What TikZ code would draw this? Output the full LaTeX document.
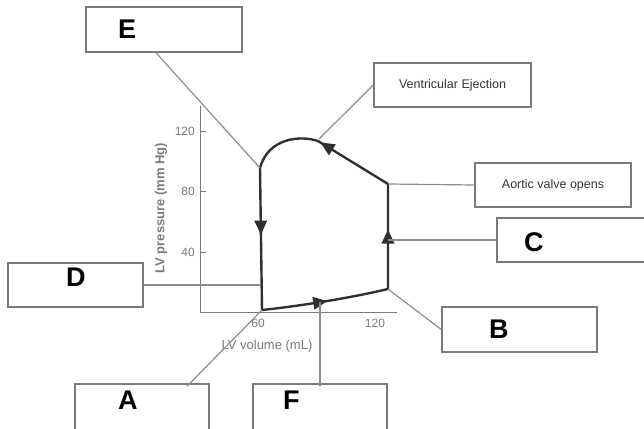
\documentclass[tikz,border=0pt]{standalone}
\usepackage{fontspec}
\setmainfont{Liberation Sans}
\usetikzlibrary{decorations.markings}
\definecolor{axisgray}{HTML}{7A7A7A}
\definecolor{leadgray}{HTML}{8C8C8C}
\definecolor{loopgray}{HTML}{303030}
\tikzset{
  box/.style={draw=axisgray, line width=1.4pt, minimum height=44pt, inner sep=0pt},
  leader/.style={draw=leadgray, line width=1.2pt},
  pvloop/.style={draw=loopgray, line width=2.4pt, line join=round},
  letter/.style={font=\fontsize{27}{27}\selectfont\bfseries, inner sep=0pt, anchor=west},
  note/.style={font=\fontsize{12.5}{13}\selectfont, text=black!80},
  ticklab/.style={font=\fontsize{12}{12}\selectfont, text=axisgray, inner sep=0pt},
  arrowmark/.style={postaction={decorate, decoration={markings,
    mark=at position #1 with {\fill[loopgray] (7pt,0pt) -- (-7pt,6.5pt) -- (-7pt,-6.5pt) -- cycle;}}}},
}
\begin{document}
\begin{tikzpicture}[x=1pt, y=-1pt]
    \useasboundingbox (0,0) rectangle (644,428);

    % axes
    \draw[axisgray, line width=1pt] (200,106) -- (200,312) -- (397,312);
    \foreach \p/\yy in {120/131, 80/191, 40/252} {
        \draw[axisgray, line width=0.8pt] (200,\yy) -- ++(6,0);
        \node[ticklab, anchor=east] (tick\p) at (195,\yy) {\p};
    }
    \node[ticklab] (tickx60) at (258,323) {60};
    \node[ticklab] (tickx120) at (375,323) {120};
    \node[font=\fontsize{13}{13}\selectfont, text=axisgray] (xlab) at (267,346) {LV volume (mL)};
    \node[font=\fontsize{13}{13}\selectfont\bfseries, text=axisgray, rotate=90] (ylab) at (161,208) {LV pressure (mm Hg)};

    % loop points
    \coordinate (pA) at (262,310);
    \coordinate (pB) at (388,289);
    \coordinate (pAV) at (388,184);
    \coordinate (pVE) at (318,141);
    \coordinate (pE) at (260,168);
    \coordinate (pC) at (388,240);
    \coordinate (pD) at (261,285);
    \coordinate (pF) at (320,302);

    \draw[pvloop] (pA) .. controls (300,306) and (350,298) .. (pB) -- (pAV) -- (pVE)
        .. controls (300,135) and (268,138) .. (pE) -- cycle;
    \path[arrowmark=0.46] (pA) .. controls (300,306) and (350,298) .. (pB);
    \path[arrowmark=0.5] (pB) -- (pAV);
    \path[arrowmark=0.88] (pAV) -- (pVE);
    \path[arrowmark=0.42] (pE) -- (pA);

    % boxes
    \foreach \n/\x/\y/\w/\h in {E/164/29.5/156/45, B/519.5/329.5/155/45, D/75.5/285/135/44,
                                C/575/240/156/44, A/142/409/134/50, F/320/409/134/50} {
        \node[box, minimum width=\w pt, minimum height=\h pt] (box\n) at (\x,\y) {};
    }
    \node[box, note, minimum width=157pt] (boxVE) at (452.5,85) {Ventricular Ejection};
    \node[box, note, minimum width=156pt] (boxAV) at (553,185) {Aortic valve opens};

    % letters
    \node[letter] (labE) at (118,29) {E};
    \node[letter] (labD) at (66,277) {D};
    \node[letter] (labA) at (118,400) {A};
    \node[letter] (labF) at (283,400) {F};
    \node[letter] (labC) at (524,242) {C};
    \node[letter] (labB) at (489,329) {B};

    % leaders
    \draw[leader] ([xshift=-8pt]boxE.south) -- (pE);
    \draw[leader] (boxVE.west) -- ([xshift=1pt,yshift=2pt]pVE);
    \draw[leader] (boxAV.west) -- (pAV);
    \draw[leader] (boxC.west) -- (pC);
    \draw[leader] (boxB.west) -- (pB);
    \draw[leader] (boxD.east) -- (pD);
    \draw[leader] ([xshift=45pt,yshift=-3pt]boxA.north) -- (pA);
    \draw[leader] ([yshift=-3pt]boxF.north) -- (pF);
\end{tikzpicture}
\end{document}
